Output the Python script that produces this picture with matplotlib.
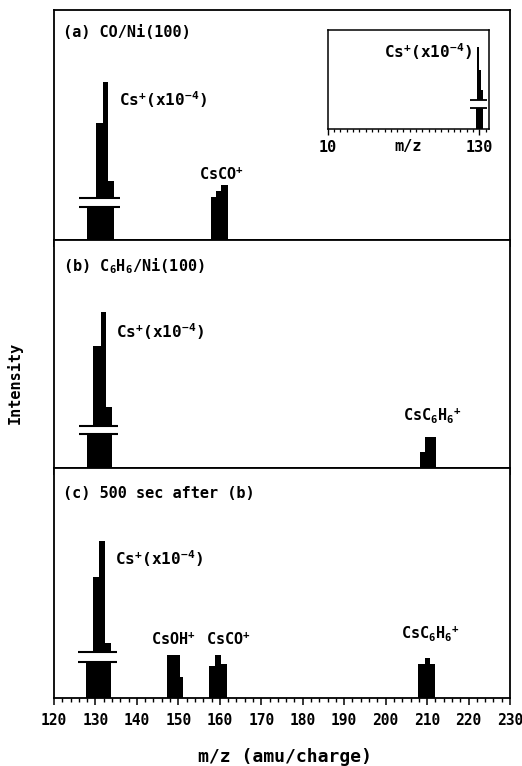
import matplotlib
matplotlib.use("Agg")
import matplotlib.pyplot as plt
from matplotlib.ticker import MultipleLocator, FixedLocator

plt.rcParams['font.family'] = ['DejaVu Sans Mono']
plt.rcParams['font.weight'] = 'bold'
plt.rcParams['mathtext.fontset'] = 'custom'
plt.rcParams['mathtext.rm'] = 'DejaVu Sans Mono:bold'
plt.rcParams['mathtext.it'] = 'DejaVu Sans Mono:bold'
plt.rcParams['mathtext.bf'] = 'DejaVu Sans Mono:bold'

# ---------------- data ----------------
x_ticks = [120, 130, 140, 150, 160, 170, 180, 190, 200, 210, 220, 230]

# panel (a) CO/Ni(100)
a_cs_edges = [128.0, 130.1, 131.7, 133.1, 134.5]
a_cs_heights = [14.3, 51.0, 68.6, 25.8]
a_cs_break = [14.3, 18.4]
a_csco_edges = [157.8, 159.1, 160.4, 161.9]
a_csco_heights = [18.6, 21.3, 24.0]

# panel (b) C6H6/Ni(100)
b_cs_edges = [127.9, 129.5, 131.3, 132.5, 133.9]
b_cs_heights = [15.2, 53.4, 68.3, 26.7]
b_cs_break = [15.2, 18.5]
b_csc6h6_edges = [208.3, 209.6, 212.2]
b_csc6h6_heights = [7.3, 13.6]

# panel (c) 500 sec after (b)
c_cs_edges = [127.7, 129.4, 130.9, 132.2, 133.8]
c_cs_heights = [15.7, 52.4, 68.4, 23.7]
c_cs_break = [15.7, 20.0]
c_csoh_edges = [147.2, 149.0, 150.3, 151.2]
c_csoh_heights = [18.4, 18.4, 9.2]
c_csco_edges = [157.4, 158.9, 160.3, 161.7]
c_csco_heights = [13.8, 18.8, 14.7]
c_csc6h6_edges = [207.9, 209.4, 210.8, 212.0]
c_csc6h6_heights = [14.5, 17.4, 14.5]

# inset (wide scan)
inset_ticks = [10, 130]
inset_edges = [127.6, 128.6, 129.7, 131.3, 132.9]
inset_heights = [21.1, 83.0, 60.0, 40.0]
inset_break = [21.1, 29.5]

CS_LABEL = r'Cs$^{+}$(x10$^{-4}$)'

# ---------------- figure ----------------
W, H = 522, 766
fig = plt.figure(figsize=(W / 100, H / 100), dpi=100)

def px_axes(x0, y0, x1, y1):
    return fig.add_axes([x0 / W, 1 - y1 / H, (x1 - x0) / W, (y1 - y0) / H])

ax_a = px_axes(54, 10, 510, 240)
ax_b = px_axes(54, 240, 510, 468.3)
ax_c = px_axes(54, 468.3, 510, 697.7)

def peak(ax, edges, heights, brk=None, lpad=1.9, rpad=1.5, lw=1.5):
    ax.stairs(heights, edges, fill=True, color='black', baseline=0, lw=0)
    if brk is not None:
        x0, x1 = edges[0] - lpad, edges[-1] + rpad
        ax.fill_between([x0, x1], brk[0], brk[1], color='white', lw=0, zorder=3)
        ax.hlines(brk, x0, x1, color='black', lw=lw, zorder=4)

for ax in (ax_a, ax_b, ax_c):
    ax.set_xlim(120, 230)
    ax.set_ylim(0, 100)
    ax.set_yticks([])
    ax.xaxis.set_major_locator(FixedLocator(x_ticks))
    ax.xaxis.set_minor_locator(MultipleLocator(2))
    ax.tick_params(axis='x', which='major', direction='out', length=5, width=1.1)
    ax.tick_params(axis='x', which='minor', direction='out', length=3, width=1.0)
    for s in ax.spines.values():
        s.set_linewidth(1.3)

ax_a.tick_params(axis='x', labelbottom=False)
ax_b.tick_params(axis='x', labelbottom=False)
ax_c.set_xticklabels([str(t) for t in x_ticks], fontsize=10.5, fontweight='bold')
ax_c.tick_params(axis='x', pad=6)

FS = 11      # panel titles / ion labels
FSC = 11.5   # Cs labels

# panel (a)
peak(ax_a, a_cs_edges, a_cs_heights, a_cs_break)
peak(ax_a, a_csco_edges, a_csco_heights)
ax_a.text(0.02, 0.904, '(a) CO/Ni(100)', transform=ax_a.transAxes, fontsize=FS, va='center')
ax_a.text(135.7, 60.9, CS_LABEL, fontsize=FSC, va='center')
ax_a.text(160.5, 28.7, r'CsCO$^{+}$', fontsize=FS, va='center', ha='center')

# panel (b)
peak(ax_b, b_cs_edges, b_cs_heights, b_cs_break)
peak(ax_b, b_csc6h6_edges, b_csc6h6_heights)
ax_b.text(0.02, 0.885, r'(b) C$_{6}$H$_{6}$/Ni(100)', transform=ax_b.transAxes, fontsize=FS, va='center')
ax_b.text(134.9, 59.8, CS_LABEL, fontsize=FSC, va='center')
ax_b.text(211.2, 23.3, r'CsC$_{6}$H$_{6}$$^{+}$', fontsize=FS, va='center', ha='center')

# panel (c)
peak(ax_c, c_cs_edges, c_cs_heights, c_cs_break)
peak(ax_c, c_csoh_edges, c_csoh_heights)
peak(ax_c, c_csco_edges, c_csco_heights)
peak(ax_c, c_csc6h6_edges, c_csc6h6_heights)
ax_c.text(0.02, 0.891, '(c) 500 sec after (b)', transform=ax_c.transAxes, fontsize=FS, va='center')
ax_c.text(134.6, 60.8, CS_LABEL, fontsize=FSC, va='center')
ax_c.text(148.8, 25.5, r'CsOH$^{+}$', fontsize=FS, va='center', ha='center')
ax_c.text(162.1, 25.5, r'CsCO$^{+}$', fontsize=FS, va='center', ha='center')
ax_c.text(210.8, 28.2, r'CsC$_{6}$H$_{6}$$^{+}$', fontsize=FS, va='center', ha='center')

# inset
ax_i = px_axes(327.7, 30, 489.3, 129.3)
ax_i.set_xlim(10, 138)
ax_i.set_ylim(0, 100)
ax_i.set_yticks([])
ax_i.xaxis.set_major_locator(FixedLocator(inset_ticks))
ax_i.xaxis.set_minor_locator(MultipleLocator(5))
ax_i.set_xticklabels([str(t) for t in inset_ticks], fontsize=11, fontweight='bold')
ax_i.tick_params(axis='x', which='major', direction='out', length=4, width=1.0, pad=4)
ax_i.tick_params(axis='x', which='minor', direction='out', length=2.5, width=0.9)
for s in ax_i.spines.values():
    s.set_linewidth(1.1)
peak(ax_i, inset_edges, inset_heights, inset_break, lpad=4.5, rpad=3.5, lw=1.3)
ax_i.text(124.2, 78, CS_LABEL, fontsize=FSC, va='center', ha='right')
ax_i.set_xlabel('m/z', fontsize=11, fontweight='bold', labelpad=-12)

fig.text(15 / W, 1 - 383 / H, 'Intensity', rotation=90, fontsize=11, va='center', ha='center')
fig.text(285 / W, 1 - 757 / H, 'm/z (amu/charge)', fontsize=13, va='center', ha='center')

fig.savefig('out.png', dpi=100)
